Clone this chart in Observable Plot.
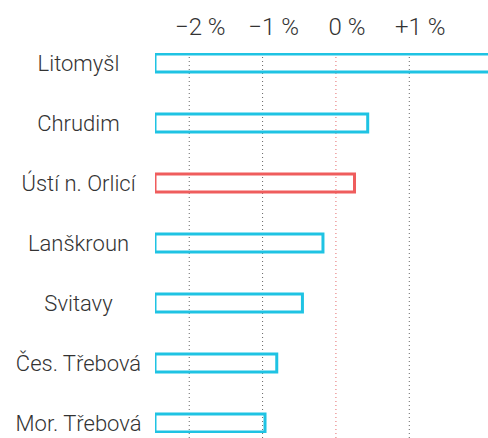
<!DOCTYPE html>
<html>
<head>
<meta charset="utf-8">
<script src="https://cdn.jsdelivr.net/npm/d3@7"></script>
<script src="https://cdn.jsdelivr.net/npm/@observablehq/plot@0.6"></script>
<style>
  html, body { margin: 0; padding: 0; background: #fff; }
  #chart svg { display: block; overflow: hidden; }
</style>
</head>
<body>
<div id="chart"></div>
<script>
// Towns (top to bottom) and their change in %
const towns = ["Litomyšl", "Chrudim", "Ústí n. Orlicí", "Lanškroun", "Svitavy", "Čes. Třebová", "Mor. Třebová"];
const values = [2.4, 0.44, 0.26, -0.17, -0.45, -0.80, -0.96];
const highlight = "Ústí n. Orlicí";
const baseline = -2.46;
const xMax = 2.08;
// Axis ticks
const tickValues = [-2, -1, 0, 1];
const tickLabels = ["−2\u00a0%", "−1\u00a0%", "0\u00a0%", "+1\u00a0%"];

const data = towns.map((t, i) => ({town: t, value: values[i], hi: t === highlight}));
const ticks = tickValues.map((v, i) => ({v, label: tickLabels[i]}));

const cyan = "#1fc3e3";
const red = "#ef5d5d";

const chart = Plot.plot({
  width: 488,
  height: 438,
  marginTop: 53,
  marginLeft: 155,
  marginRight: 0,
  marginBottom: 5,
  style: {fontFamily: "Roboto, sans-serif", color: "#333", background: "#fff"},
  x: {domain: [baseline, xMax], axis: null},
  y: {domain: towns, paddingInner: 0.7, paddingOuter: 0, axis: null},
  marks: [
    Plot.ruleX(ticks, {x: "v", stroke: d => d.v === 0 ? "#e46a6a" : "#666",
      strokeDasharray: "1,3", strokeWidth: 1, insetBottom: -5}),
    Plot.barX(data, {x1: baseline, x2: "value", y: "town", fill: "none",
      stroke: d => d.hi ? red : cyan, strokeWidth: 3, clip: true}),
    Plot.text(ticks, {x: "v", text: "label", frameAnchor: "top", dy: -36, dx: 11,
      fontSize: 24, fontWeight: 300, fill: "#333"}),
    Plot.text(data, {y: "town", text: "town", frameAnchor: "left", dx: -77,
      textAnchor: "middle", fontSize: 22, fontWeight: 300, fill: "#333"})
  ]
});
document.getElementById("chart").appendChild(chart);
</script>
</body>
</html>
